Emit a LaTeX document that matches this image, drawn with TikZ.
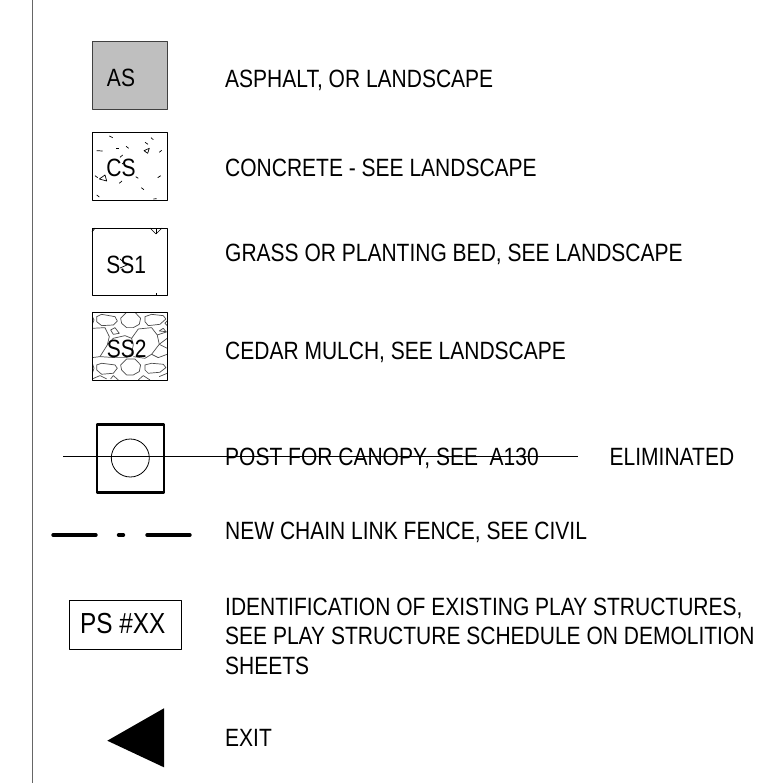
\documentclass[tikz,border=0pt]{standalone}
\usepackage{fontspec}
\setmainfont[FakeStretch=0.84]{Liberation Sans}
\tikzset{
  lab/.style={anchor=base west,inner sep=0pt,font=\fontsize{25}{25}\selectfont,text=black},
  sym/.style={inner sep=0pt,font=\fontsize{25}{25}\selectfont,text=black},
  hatchline/.style={line width=.7pt,black},
  mulch/.style={line width=.7pt,black!70}
}
\begin{document}
\begin{tikzpicture}[x=1pt,y=-1pt,line join=round]
\useasboundingbox (0,0) rectangle (762,783);
\fill[white] (0,0) rectangle (762,783);
% margin line
\draw[line width=1.2pt,black!60] (32.5,0) -- (32.5,783);
% AS
\node[draw=black!75,fill=black!25,line width=.9pt,minimum width=75pt,minimum height=68pt,inner sep=0pt] (asbox) at (129.5,75) {};
\node[sym] (astxt) at (121,78) {AS};
\node[lab] (l1) at (225,87.5) {ASPHALT, OR LANDSCAPE};
% CS
\node[draw=black,line width=.8pt,minimum width=75pt,minimum height=68pt,inner sep=0pt] (csbox) at (129.5,166) {};
\foreach \a/\b/\c/\d in {109.3/136/112.7/137.7,151/137.7/153.3/139.7,145/142.3/148/144.3,159.3/152.3/161.7/150.3,116/148.3/119/148.3,126/146.3/128.7/148.3,96.7/150.7/102.7/151,120/157.3/122.7/155,122/164/124.5/162,95/175.7/97.7/177.7,119.3/183.3/122/181,135.7/176.7/138.3/178.3,157.7/177.7/160.7/175.7,141.3/187.7/144/189.7,96.7/195/99.3/197,153.3/199/156.7/198.7}
  \draw[hatchline] (\a,\b) -- (\c,\d);
\draw[hatchline] (144,150.7) -- (149.3,148.3) -- (147.7,153.3) -- cycle;
\draw[hatchline] (99.3,179) -- (105,175) -- (106.7,181) -- cycle;
\node[sym] (cstxt) at (121,168) {CS};
\node[lab] (l2) at (225,177) {CONCRETE - SEE LANDSCAPE};
% SS1
\node[draw=black,line width=.8pt,minimum width=75.5pt,minimum height=67pt,inner sep=0pt] (ssabox) at (129.8,261.5) {};
\draw[hatchline] (150,228) -- (156,234) -- (162,228);
\draw[hatchline] (156,234) -- (156,228);
\draw[hatchline] (92,232) -- (95,228);
\draw[hatchline] (156,295) -- (156,293);
\draw[hatchline] (120,259) -- (127,265) -- (120,268);
\node[sym] (ssatxt) at (126.3,265) {SS1};
\node[lab] (l3) at (225,261.5) {GRASS OR PLANTING BED, SEE LANDSCAPE};
% SS2
\begin{scope}
\clip (92,312) rectangle (167,380);
\begin{scope}[shift={(80,305)},x=.333pt,y=-.333pt]
\draw[mulch] (50,35)--(65,28)--(105,35)--(112,48)--(100,60)--(65,62)--(50,50)--cycle;
\draw[mulch] (122,40)--(140,22)--(165,22)--(182,40)--(178,58)--(160,68)--(140,68)--(125,55)--cycle;
\draw[mulch] (195,35)--(215,28)--(250,32)--(258,42)--(240,58)--(205,62)--(195,50)--cycle;
\draw[mulch] (37,35)--(42,45)--(37,58);
\draw[mulch] (262,48)--(255,55)--(262,62);
\draw[mulch] (92,75)--(105,68)--(118,85)--(100,88)--cycle;
\draw[mulch] (37,70)--(75,68)--(88,95)--(82,120)--(60,155)--(37,158);
\draw[mulch] (155,100)--(175,72)--(215,68)--(232,90)--(238,118)--(215,148)--(195,160)--(160,155);
\draw[mulch] (82,120)--(100,100)--(135,92)--(155,100)--(160,120)--(155,145)--(140,158)--(105,158)--(60,155);
\draw[mulch] (238,78)--(250,70)--(258,80)--cycle;
\draw[mulch] (232,90)--(262,80);
\draw[mulch] (238,118)--(262,100);
\draw[mulch] (238,118)--(262,130);
\draw[mulch] (215,148)--(235,158)--(262,148);
\draw[mulch] (50,180)--(65,175)--(105,180)--(112,190)--(100,205)--(65,208)--(50,195)--cycle;
\draw[mulch] (122,180)--(140,162)--(165,162)--(182,180)--(178,200)--(160,210)--(140,210)--(125,195)--cycle;
\draw[mulch] (195,180)--(215,175)--(250,178)--(258,188)--(240,202)--(205,205)--(195,195)--cycle;
\draw[mulch] (37,175)--(42,190)--(37,205);
\draw[mulch] (37,222)--(60,212)--(80,222);
\draw[mulch] (92,222)--(100,212)--(115,225);
\draw[mulch] (175,225)--(190,212)--(210,225);
\draw[mulch] (238,215)--(262,205);
\end{scope}
\end{scope}
\node[draw=black,line width=.8pt,minimum width=75pt,minimum height=68pt,inner sep=0pt] (ssbbox) at (129.5,346) {};
\node[sym] (ssbtxt) at (126.7,349) {SS2};
\node[lab] (l4) at (225,359) {CEDAR MULCH, SEE LANDSCAPE};
% post
\node[draw=black,line width=2.4pt,minimum width=67pt,minimum height=68pt,inner sep=0pt] (postbox) at (130.3,458.3) {};
\node[draw=black,circle,line width=.8pt,minimum size=38pt,inner sep=0pt] (postcirc) at (130.3,458) {};
\coordinate (strikea) at (63,456.3);
\coordinate (strikeb) at (578,456.3);
\draw[line width=.8pt,black] (strikea) -- (strikeb);
\node[lab] (l5) at (225,465) {POST FOR CANOPY, SEE\ \ A130};
\node[lab] (l5b) at (609.5,465) {ELIMINATED};
% fence
\coordinate (fa) at (53,535);
\coordinate (fb) at (96,535);
\coordinate (fc) at (118.5,535);
\coordinate (fd) at (123.5,535);
\coordinate (fe) at (147,535);
\coordinate (ff) at (190,535);
\draw[line width=3.4pt,line cap=round,black] (fa) -- (fb) (fc) -- (fd) (fe) -- (ff);
\node[lab] (l6) at (225,539) {NEW CHAIN LINK FENCE, SEE CIVIL};
% PS
\node[draw=black,line width=.8pt,minimum width=112.5pt,minimum height=48.5pt,inner sep=0pt] (psbox) at (125.6,625) {};
\node[sym,font=\fontsize{29}{29}\selectfont] (pstxt) at (122.7,624) {PS \#XX};
\node[lab] (l7) at (225,615) {IDENTIFICATION OF EXISTING PLAY STRUCTURES,};
\node[lab] (l7b) at (225,644.5) {SEE PLAY STRUCTURE SCHEDULE ON DEMOLITION};
\node[lab] (l7c) at (225,674) {SHEETS};
% exit
\fill[black] (107.3,740.7) -- (164,708.3) -- (164,767.3) -- cycle;
\node[lab] (l8) at (225,746.5) {EXIT};
\end{tikzpicture}
\end{document}
